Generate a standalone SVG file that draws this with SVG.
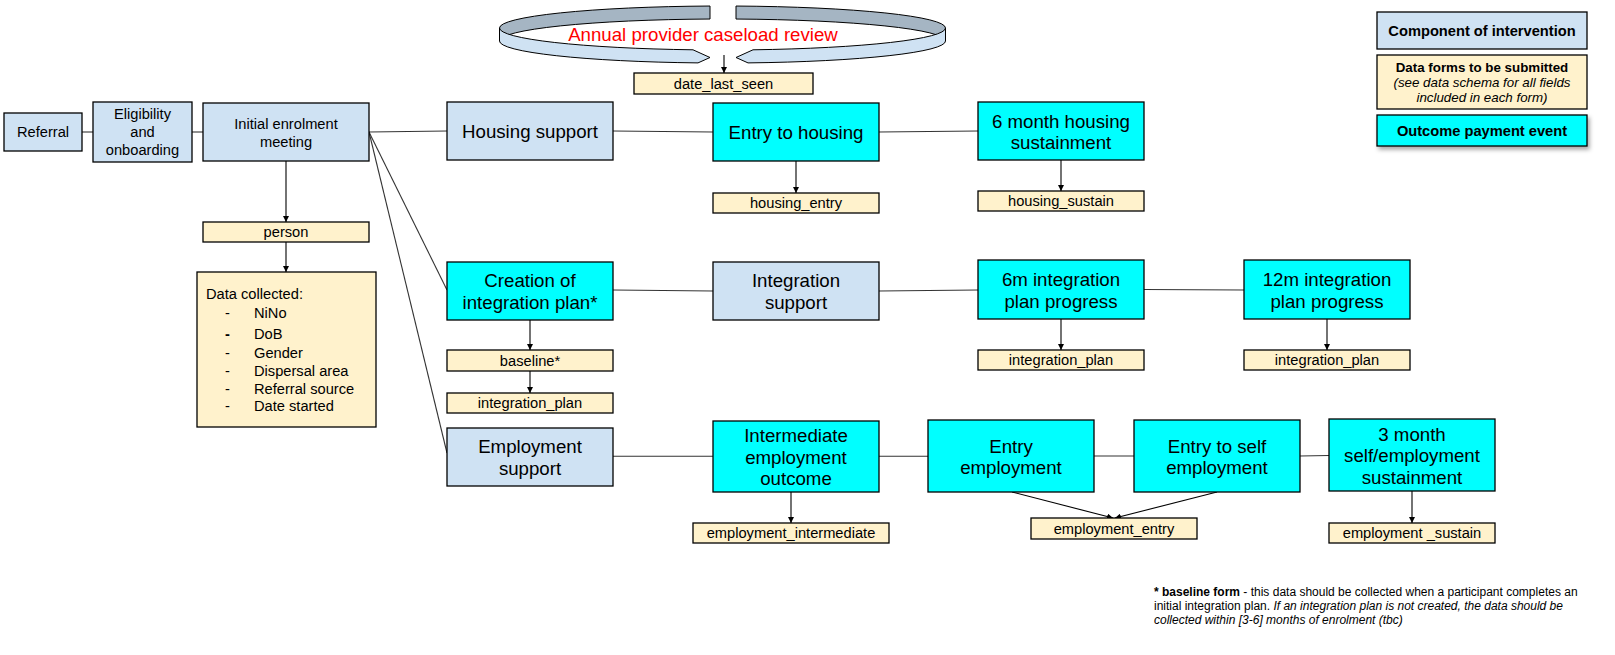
<svg xmlns="http://www.w3.org/2000/svg" width="1615" height="655" viewBox="0 0 1615 655">
<style>
text{font-family:"Liberation Sans",Arial,sans-serif;fill:#000}
.comp{fill:#cfe2f3;stroke:#000;stroke-width:1.3}
.out{fill:#00ffff;stroke:#000;stroke-width:1.3}
.form{fill:#fff2cc;stroke:#000;stroke-width:1.3}
.big{font-size:18.67px;text-anchor:middle}
.sm{font-size:14.67px;text-anchor:middle}
.dc{font-size:14.67px}
.leg{font-size:14.67px;font-weight:bold;text-anchor:middle}
.legs{font-size:13.33px;text-anchor:middle}
.fn{font-size:12px}
.ln{stroke:#333;stroke-width:1.1;fill:none}
.ar{stroke:#000;stroke-width:1.1;fill:none;marker-end:url(#ah)}
</style>
<defs>
<marker id="ah" viewBox="0 0 10 10" refX="10" refY="5" markerWidth="6" markerHeight="6" markerUnits="userSpaceOnUse" orient="auto">
<path d="M0,0 L10,5 L0,10 Z" fill="#000"/>
</marker>
<filter id="sh" x="-10%" y="-30%" width="130%" height="180%">
<feDropShadow dx="2" dy="3" stdDeviation="2" flood-color="#000" flood-opacity="0.35"/>
</filter>
</defs>
<rect width="1615" height="655" fill="#fff"/>

<g id="review">
<path d="M499.5,28 A223,22 0 0 1 710,6.03 L710,19.03 A223,22 0 0 0 499.5,41 Z" fill="#a5b5c3" stroke="#000" stroke-width="1"/>
<path d="M945.5,28 A223,22 0 0 0 736,6.04 L736,19.04 A223,22 0 0 1 945.5,41 Z" fill="#a5b5c3" stroke="#000" stroke-width="1"/>
<path d="M499.5,28 A223,22 0 0 0 693,49.8 L710,57.5 L698,62.9 A223,22 0 0 1 499.5,41 Z" fill="#cfe2f3" stroke="#000" stroke-width="1"/>
<path d="M945.5,28 A223,22 0 0 1 753,49.8 L736,57.5 L748,62.9 A223,22 0 0 0 945.5,41 Z" fill="#cfe2f3" stroke="#000" stroke-width="1"/>
<text x="703" y="40.5" style="font-size:18.67px;text-anchor:middle;fill:#ff0000">Annual provider caseload review</text>
</g>

<g id="connectors">
<line class="ln" x1="82" y1="132" x2="93" y2="132"/>
<line class="ln" x1="192" y1="132" x2="203" y2="132"/>
<line class="ln" x1="369" y1="132" x2="447" y2="131"/>
<line class="ln" x1="613" y1="131" x2="713" y2="132"/>
<line class="ln" x1="879" y1="132" x2="978" y2="131"/>
<line class="ln" x1="369" y1="132" x2="447" y2="290"/>
<line class="ln" x1="369" y1="132" x2="447" y2="453"/>
<line class="ln" x1="613" y1="290" x2="713" y2="291"/>
<line class="ln" x1="879" y1="291" x2="978" y2="290"/>
<line class="ln" x1="1144" y1="289.5" x2="1244" y2="290"/>
<line class="ln" x1="613" y1="456.3" x2="713" y2="456.3"/>
<line class="ln" x1="879" y1="456.3" x2="928" y2="456.3"/>
<line class="ln" x1="1094" y1="456" x2="1134" y2="456"/>
<line class="ln" x1="1300" y1="456" x2="1329" y2="455.5"/>
<line class="ar" x1="724" y1="55" x2="724" y2="73"/>
<line class="ar" x1="286" y1="161" x2="286" y2="222"/>
<line class="ar" x1="286" y1="242" x2="286" y2="272"/>
<line class="ar" x1="796" y1="161" x2="796" y2="193"/>
<line class="ar" x1="1061" y1="160" x2="1061" y2="191"/>
<line class="ar" x1="530" y1="320" x2="530" y2="350"/>
<line class="ar" x1="530" y1="371" x2="530" y2="393"/>
<line class="ar" x1="1061" y1="319" x2="1061" y2="350"/>
<line class="ar" x1="1327" y1="319" x2="1327" y2="350"/>
<line class="ar" x1="791" y1="492" x2="791" y2="523"/>
<line class="ar" x1="1012" y1="492" x2="1113" y2="518"/>
<line class="ar" x1="1217" y1="492" x2="1115" y2="518"/>
<line class="ar" x1="1412" y1="491" x2="1412" y2="523"/>
</g>

<g id="referral"><rect class="comp" x="4" y="113" width="78" height="38"/><text class="sm" x="43" y="137">Referral</text></g>
<g id="eligibility"><rect class="comp" x="93" y="102" width="99" height="60"/><text class="sm" x="142.5" y="119">Eligibility</text><text class="sm" x="142.5" y="137">and</text><text class="sm" x="142.5" y="155">onboarding</text></g>
<g id="initial-enrolment"><rect class="comp" x="203" y="103" width="166" height="58"/><text class="sm" x="286" y="128.5">Initial enrolment</text><text class="sm" x="286" y="146.5">meeting</text></g>
<g id="person"><rect class="form" x="203" y="222" width="166" height="20"/><text class="sm" x="286" y="237">person</text></g>
<g id="data-collected"><rect class="form" x="197" y="272" width="179" height="155"/>
<text class="dc" x="206" y="299">Data collected:</text>
<text class="dc" x="225" y="318">-</text><text class="dc" x="254" y="318">NiNo</text>
<text class="dc" x="225" y="339" style="font-weight:bold">-</text><text class="dc" x="254" y="339">DoB</text>
<text class="dc" x="225" y="358">-</text><text class="dc" x="254" y="358">Gender</text>
<text class="dc" x="225" y="375.5">-</text><text class="dc" x="254" y="375.5">Dispersal area</text>
<text class="dc" x="225" y="393.5">-</text><text class="dc" x="254" y="393.5">Referral source</text>
<text class="dc" x="225" y="411">-</text><text class="dc" x="254" y="411">Date started</text>
</g>
<g id="date-last-seen"><rect class="form" x="634" y="73" width="179" height="21"/><text class="sm" x="723.5" y="88.6">date_last_seen</text></g>

<g id="housing-support"><rect class="comp" x="447" y="102" width="166" height="58"/><text class="big" x="530" y="138">Housing support</text></g>
<g id="entry-housing"><rect class="out" x="713" y="103" width="166" height="58"/><text class="big" x="796" y="139">Entry to housing</text></g>
<g id="housing-entry"><rect class="form" x="713" y="193" width="166" height="20"/><text class="sm" x="796" y="208">housing_entry</text></g>
<g id="housing-sustainment"><rect class="out" x="978" y="102" width="166" height="58"/><text class="big" x="1061" y="127.5">6 month housing</text><text class="big" x="1061" y="149">sustainment</text></g>
<g id="housing-sustain"><rect class="form" x="978" y="191" width="166" height="20"/><text class="sm" x="1061" y="206">housing_sustain</text></g>

<g id="creation-plan"><rect class="out" x="447" y="262" width="166" height="58"/><text class="big" x="530" y="287.3">Creation of</text><text class="big" x="530" y="308.8">integration plan*</text></g>
<g id="baseline"><rect class="form" x="447" y="350" width="166" height="21"/><text class="sm" x="530" y="365.6">baseline*</text></g>
<g id="integration-plan-1"><rect class="form" x="447" y="393" width="166" height="20"/><text class="sm" x="530" y="408">integration_plan</text></g>
<g id="integration-support"><rect class="comp" x="713" y="262" width="166" height="58"/><text class="big" x="796" y="287.3">Integration</text><text class="big" x="796" y="308.8">support</text></g>
<g id="plan-6m"><rect class="out" x="978" y="260" width="166" height="59"/><text class="big" x="1061" y="286">6m integration</text><text class="big" x="1061" y="307.5">plan progress</text></g>
<g id="integration-plan-2"><rect class="form" x="978" y="350" width="166" height="20"/><text class="sm" x="1061" y="365">integration_plan</text></g>
<g id="plan-12m"><rect class="out" x="1244" y="260" width="166" height="59"/><text class="big" x="1327" y="286">12m integration</text><text class="big" x="1327" y="307.5">plan progress</text></g>
<g id="integration-plan-3"><rect class="form" x="1244" y="350" width="166" height="20"/><text class="sm" x="1327" y="365">integration_plan</text></g>

<g id="employment-support"><rect class="comp" x="447" y="428" width="166" height="58"/><text class="big" x="530" y="453.3">Employment</text><text class="big" x="530" y="474.8">support</text></g>
<g id="intermediate"><rect class="out" x="713" y="421" width="166" height="71"/><text class="big" x="796" y="442">Intermediate</text><text class="big" x="796" y="463.5">employment</text><text class="big" x="796" y="485">outcome</text></g>
<g id="employment-intermediate"><rect class="form" x="693" y="523" width="196" height="20"/><text class="sm" x="791" y="538">employment_intermediate</text></g>
<g id="entry-employment"><rect class="out" x="928" y="420" width="166" height="72"/><text class="big" x="1011" y="452.5">Entry</text><text class="big" x="1011" y="474">employment</text></g>
<g id="entry-self-employment"><rect class="out" x="1134" y="420" width="166" height="72"/><text class="big" x="1217" y="452.5">Entry to self</text><text class="big" x="1217" y="474">employment</text></g>
<g id="employment-entry"><rect class="form" x="1031" y="518" width="166" height="21"/><text class="sm" x="1114" y="533.6">employment_entry</text></g>
<g id="employment-sustainment"><rect class="out" x="1329" y="419" width="166" height="72"/><text class="big" x="1412" y="440.5">3 month</text><text class="big" x="1412" y="462">self/employment</text><text class="big" x="1412" y="483.5">sustainment</text></g>
<g id="employment-sustain"><rect class="form" x="1329" y="523" width="166" height="20"/><text class="sm" x="1412" y="538">employment _sustain</text></g>

<g id="legend">
<rect class="comp" x="1377" y="12" width="210" height="37"/>
<text class="leg" x="1482" y="36">Component of intervention</text>
<rect class="form" x="1377" y="55" width="210" height="54"/>
<text class="legs" x="1482" y="71.5" style="font-weight:bold">Data forms to be submitted</text>
<text class="legs" x="1482" y="86.5" style="font-style:italic">(see data schema for all fields</text>
<text class="legs" x="1482" y="101.5" style="font-style:italic">included in each form)</text>
<rect class="out" x="1377" y="115" width="210" height="31" filter="url(#sh)"/>
<text class="leg" x="1482" y="136">Outcome payment event</text>
</g>

<g id="footnote">
<text class="fn" x="1154" y="596"><tspan font-weight="bold">* baseline form</tspan> - this data should be collected when a participant completes an</text>
<text class="fn" x="1154" y="610">initial integration plan. <tspan font-style="italic">If an integration plan is not created, the data should be</tspan></text>
<text class="fn" x="1154" y="624" font-style="italic">collected within [3-6] months of enrolment (tbc)</text>
</g>
</svg>
